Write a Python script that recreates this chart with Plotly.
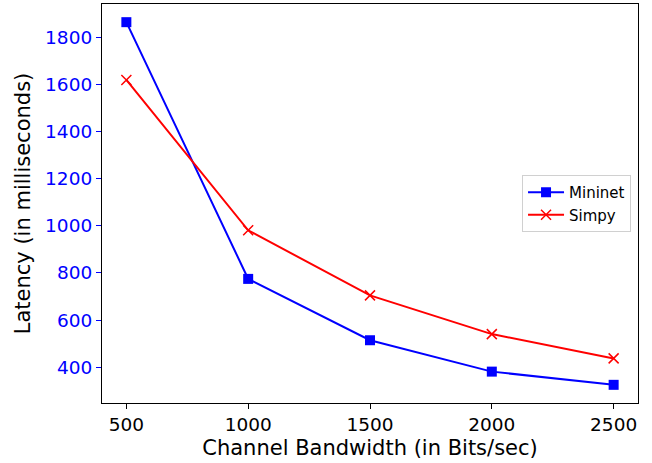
import plotly.graph_objects as go

bandwidth = [500, 1000, 1500, 2000, 2500]
mininet = [1863, 775, 515, 382, 326]
simpy = [1618, 981, 705, 541, 438]
x_ticks = [500, 1000, 1500, 2000, 2500]
y_ticks = [400, 600, 800, 1000, 1200, 1400, 1600, 1800]

FONT = "DejaVu Sans"

fig = go.Figure()
fig.add_trace(go.Scatter(
    x=bandwidth, y=mininet, name="Mininet", mode="lines+markers",
    line=dict(color="#0000ff", width=2),
    marker=dict(symbol="square", size=10, color="#0000ff"),
))
fig.add_trace(go.Scatter(
    x=bandwidth, y=simpy, name="Simpy", mode="lines+markers",
    line=dict(color="#ff0000", width=2),
    marker=dict(symbol="x-thin", size=10, color="#ff0000",
                line=dict(color="#ff0000", width=1.5)),
))

fig.update_layout(
    width=652, height=463,
    margin=dict(l=102, r=14, t=4, b=60),
    paper_bgcolor="white", plot_bgcolor="white",
    font=dict(family=FONT, color="black"),
    showlegend=True,
    legend=dict(
        x=0.987, xanchor="right", y=0.5, yanchor="middle",
        bgcolor="white", bordercolor="#d0d0d0", borderwidth=1,
        font=dict(family=FONT, size=15, color="black"),
        itemwidth=36, tracegroupgap=0,
    ),
    xaxis=dict(
        range=[400, 2600], tickvals=x_ticks,
        ticktext=[str(v) for v in x_ticks],
        showgrid=False, zeroline=False,
        showline=True, linecolor="black", linewidth=1.2, mirror=True,
        ticks="outside", ticklen=5, tickwidth=1.2, tickcolor="black",
        tickfont=dict(family=FONT, size=18.5, color="black"),
        title=dict(text="Channel Bandwidth (in Bits/sec)",
                   font=dict(family=FONT, size=21, color="black"),
                   standoff=6),
    ),
    yaxis=dict(
        range=[249, 1940], tickvals=y_ticks,
        ticktext=[str(v) for v in y_ticks],
        showgrid=False, zeroline=False,
        showline=True, linecolor="black", linewidth=1.2, mirror=True,
        ticks="outside", ticklen=5, tickwidth=1.2, tickcolor="#0000ff",
        tickfont=dict(family=FONT, size=18.5, color="#0000ff"),
        title=dict(text="Latency (in milliseconds)",
                   font=dict(family=FONT, size=21, color="black"),
                   standoff=8),
    ),
)

fig.write_html("out.html")
